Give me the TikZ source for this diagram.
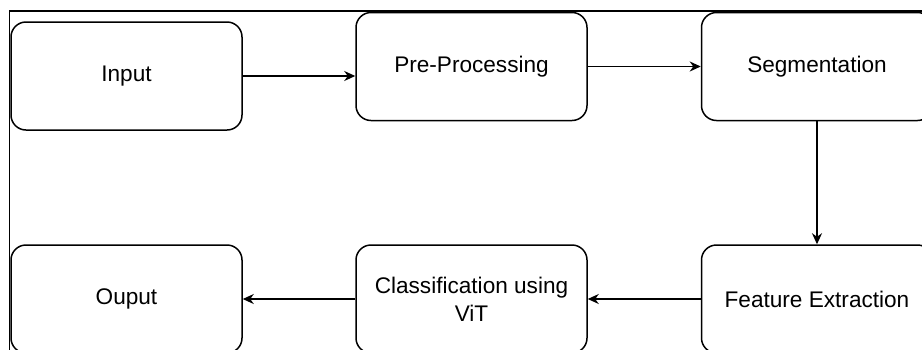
\documentclass[tikz,border=0pt]{standalone}
\usepackage{fontspec}
\setmainfont{Liberation Sans}
\usetikzlibrary{arrows.meta}
\begin{document}
\begin{tikzpicture}[x=1pt,y=-1pt,
  stepbox/.style={draw=black, line width=1.5pt, rounded corners=15pt, minimum width=231pt, minimum height=108pt, inner sep=0pt, align=center, font=\fontsize{22.6}{28}\selectfont, fill=white},
  conn/.style={draw=black, line width=1.5pt, -{Stealth[length=11pt,width=10pt,inset=3.5pt]}},
  framel/.style={draw=black, line width=1.6pt}]
\useasboundingbox (0,0) rectangle (922,349);
\clip (0,0) rectangle (922,349);
\fill[white] (0,0) rectangle (922,349);
\draw[framel] (9.5,360) -- (9.5,11) -- (930,11);
\node[stepbox] (in) at (126.5,76) {Input};
\node[stepbox] (pre) at (471.5,66.5) {Pre-Processing};
\node[stepbox] (seg) at (817,66.5) {Segmentation};
\node[stepbox] (fe) at (817,299) {Feature Extraction};
\node[stepbox] (cls) at (471.5,299) {Classification using\\ViT};
\node[stepbox] (out) at (126.5,299) {Ouput};
\draw[conn] (in.east) -- (in.east -| pre.west);
\draw[conn] (pre.east) -- (seg.west);
\draw[conn] (seg.south) -- (fe.north);
\draw[conn] (fe.west) -- (cls.east);
\draw[conn] (cls.west) -- (out.east);
\end{tikzpicture}
\end{document}
